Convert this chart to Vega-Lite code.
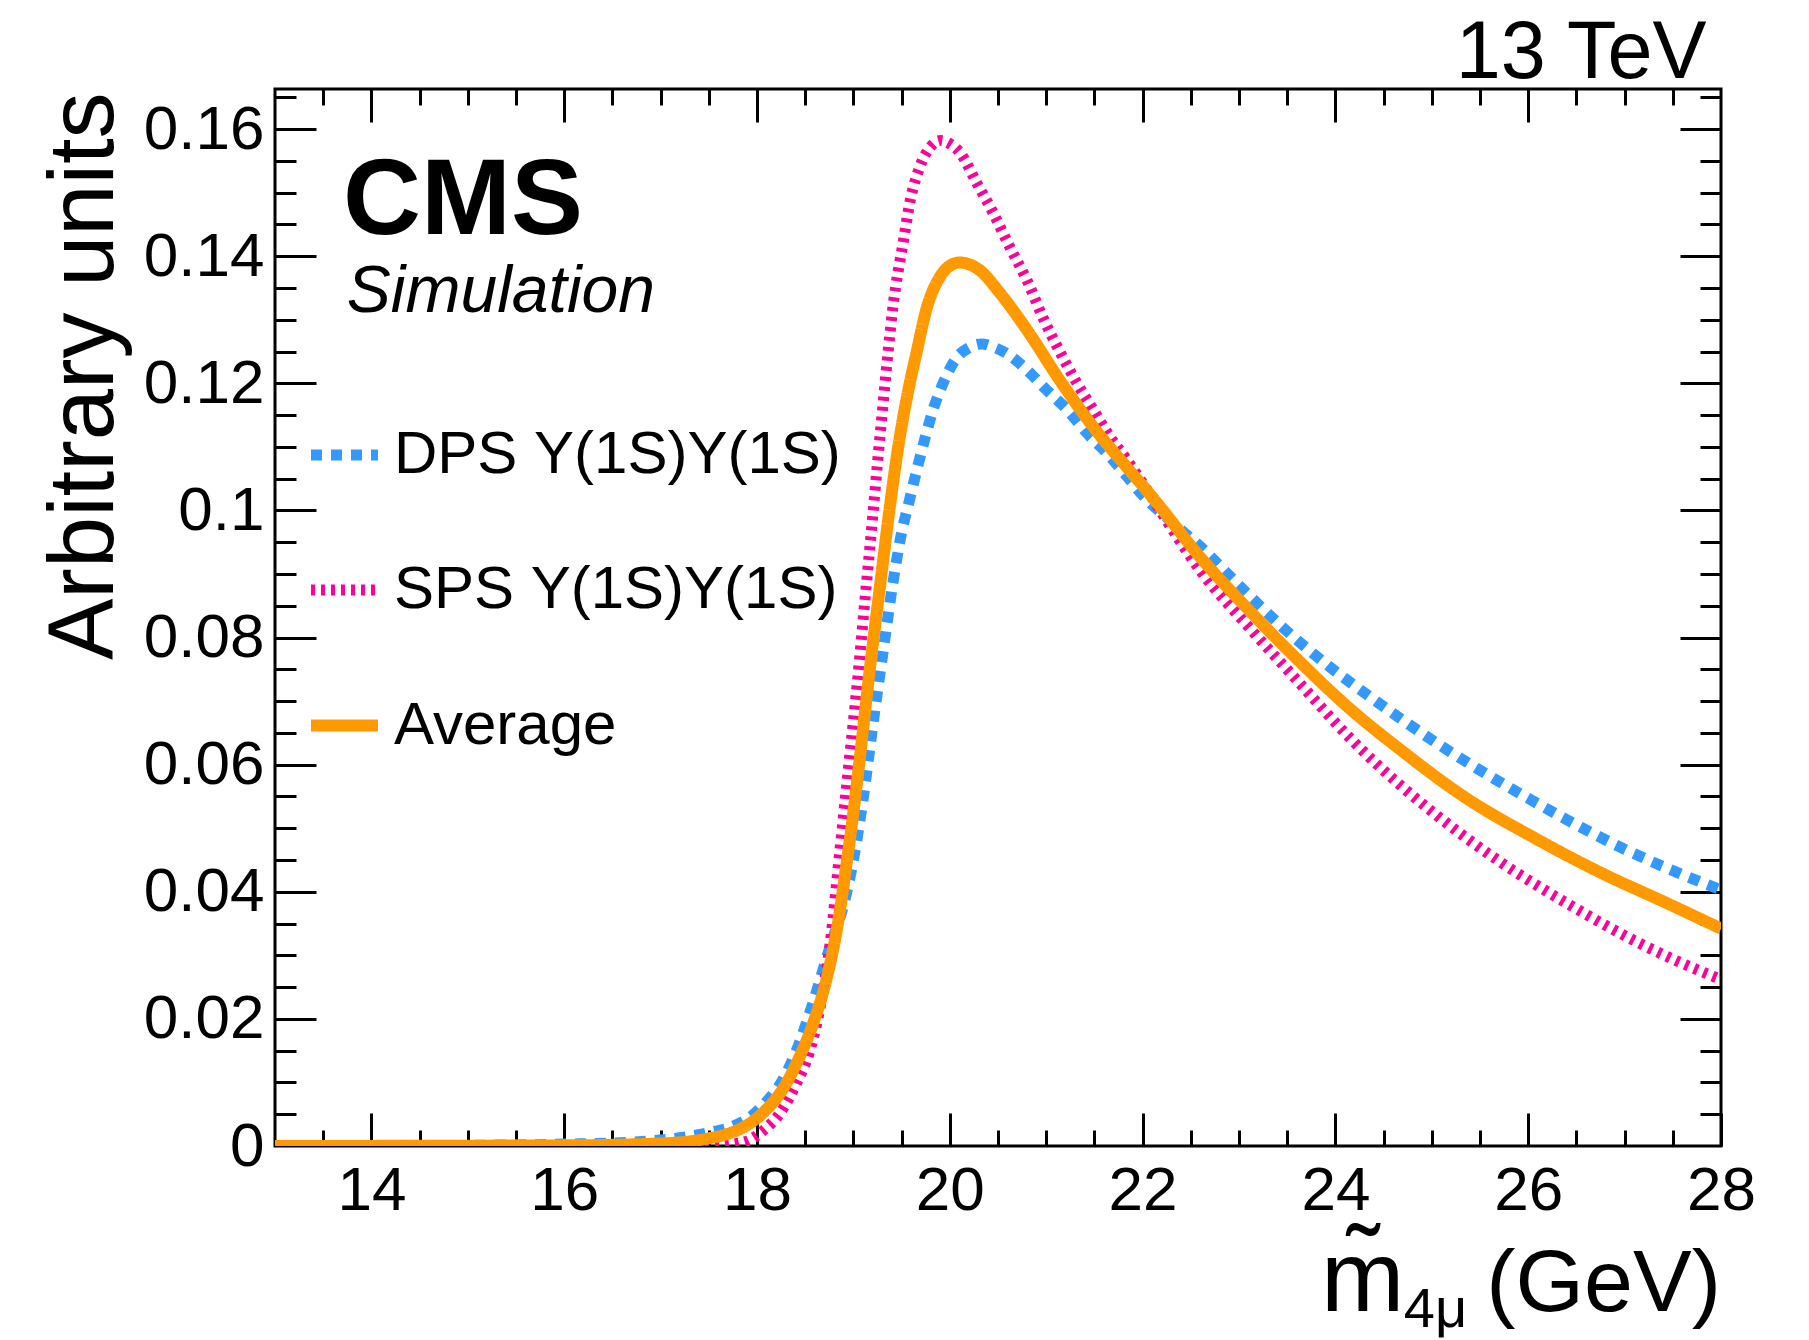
{
  "$schema": "https://vega.github.io/schema/vega-lite/v6.json",
  "width": 1446,
  "height": 1057,
  "autosize": {"type": "none"},
  "padding": {"left": 275, "top": 89, "right": 88, "bottom": 194},
  "background": "white",
  "datasets": {
    "curves": [
      {"series": "DPS Υ(1S)Υ(1S)", "x": 13.0, "y": 0.0},
      {"series": "DPS Υ(1S)Υ(1S)", "x": 14.0, "y": 0.0},
      {"series": "DPS Υ(1S)Υ(1S)", "x": 15.0, "y": 0.0001},
      {"series": "DPS Υ(1S)Υ(1S)", "x": 16.0, "y": 0.0003},
      {"series": "DPS Υ(1S)Υ(1S)", "x": 16.7, "y": 0.0006},
      {"series": "DPS Υ(1S)Υ(1S)", "x": 17.2, "y": 0.0013},
      {"series": "DPS Υ(1S)Υ(1S)", "x": 17.5, "y": 0.0021},
      {"series": "DPS Υ(1S)Υ(1S)", "x": 17.75, "y": 0.0031},
      {"series": "DPS Υ(1S)Υ(1S)", "x": 17.95, "y": 0.0048},
      {"series": "DPS Υ(1S)Υ(1S)", "x": 18.1, "y": 0.0070},
      {"series": "DPS Υ(1S)Υ(1S)", "x": 18.25, "y": 0.0100},
      {"series": "DPS Υ(1S)Υ(1S)", "x": 18.4, "y": 0.0147},
      {"series": "DPS Υ(1S)Υ(1S)", "x": 18.58, "y": 0.0225},
      {"series": "DPS Υ(1S)Υ(1S)", "x": 18.76, "y": 0.0315},
      {"series": "DPS Υ(1S)Υ(1S)", "x": 18.9, "y": 0.0380},
      {"series": "DPS Υ(1S)Υ(1S)", "x": 19.0, "y": 0.0450},
      {"series": "DPS Υ(1S)Υ(1S)", "x": 19.1, "y": 0.0545},
      {"series": "DPS Υ(1S)Υ(1S)", "x": 19.2, "y": 0.0660},
      {"series": "DPS Υ(1S)Υ(1S)", "x": 19.31, "y": 0.0780},
      {"series": "DPS Υ(1S)Υ(1S)", "x": 19.41, "y": 0.0886},
      {"series": "DPS Υ(1S)Υ(1S)", "x": 19.5, "y": 0.0965},
      {"series": "DPS Υ(1S)Υ(1S)", "x": 19.58, "y": 0.1015},
      {"series": "DPS Υ(1S)Υ(1S)", "x": 19.66, "y": 0.1065},
      {"series": "DPS Υ(1S)Υ(1S)", "x": 19.74, "y": 0.1112},
      {"series": "DPS Υ(1S)Υ(1S)", "x": 19.83, "y": 0.1160},
      {"series": "DPS Υ(1S)Υ(1S)", "x": 19.93, "y": 0.1200},
      {"series": "DPS Υ(1S)Υ(1S)", "x": 20.07, "y": 0.1240},
      {"series": "DPS Υ(1S)Υ(1S)", "x": 20.2, "y": 0.1256},
      {"series": "DPS Υ(1S)Υ(1S)", "x": 20.33, "y": 0.1262},
      {"series": "DPS Υ(1S)Υ(1S)", "x": 20.45, "y": 0.1257},
      {"series": "DPS Υ(1S)Υ(1S)", "x": 20.59, "y": 0.1247},
      {"series": "DPS Υ(1S)Υ(1S)", "x": 20.8, "y": 0.1221},
      {"series": "DPS Υ(1S)Υ(1S)", "x": 21.0, "y": 0.1190},
      {"series": "DPS Υ(1S)Υ(1S)", "x": 21.22, "y": 0.1158},
      {"series": "DPS Υ(1S)Υ(1S)", "x": 21.42, "y": 0.1122},
      {"series": "DPS Υ(1S)Υ(1S)", "x": 21.63, "y": 0.1090},
      {"series": "DPS Υ(1S)Υ(1S)", "x": 21.84, "y": 0.1053},
      {"series": "DPS Υ(1S)Υ(1S)", "x": 22.0, "y": 0.1024},
      {"series": "DPS Υ(1S)Υ(1S)", "x": 22.3, "y": 0.0982},
      {"series": "DPS Υ(1S)Υ(1S)", "x": 22.6, "y": 0.0943},
      {"series": "DPS Υ(1S)Υ(1S)", "x": 23.0, "y": 0.0882},
      {"series": "DPS Υ(1S)Υ(1S)", "x": 23.46, "y": 0.0815},
      {"series": "DPS Υ(1S)Υ(1S)", "x": 23.94, "y": 0.0754},
      {"series": "DPS Υ(1S)Υ(1S)", "x": 24.43, "y": 0.0699},
      {"series": "DPS Υ(1S)Υ(1S)", "x": 24.95, "y": 0.0644},
      {"series": "DPS Υ(1S)Υ(1S)", "x": 25.47, "y": 0.0594},
      {"series": "DPS Υ(1S)Υ(1S)", "x": 26.0, "y": 0.0547},
      {"series": "DPS Υ(1S)Υ(1S)", "x": 26.54, "y": 0.0502},
      {"series": "DPS Υ(1S)Υ(1S)", "x": 27.0, "y": 0.0467},
      {"series": "DPS Υ(1S)Υ(1S)", "x": 27.44, "y": 0.0437},
      {"series": "DPS Υ(1S)Υ(1S)", "x": 28.0, "y": 0.0403},
      {"series": "SPS Υ(1S)Υ(1S)", "x": 13.0, "y": 0.0},
      {"series": "SPS Υ(1S)Υ(1S)", "x": 17.0, "y": 0.0},
      {"series": "SPS Υ(1S)Υ(1S)", "x": 17.6, "y": 0.0001},
      {"series": "SPS Υ(1S)Υ(1S)", "x": 17.86, "y": 0.0006},
      {"series": "SPS Υ(1S)Υ(1S)", "x": 18.07, "y": 0.0025},
      {"series": "SPS Υ(1S)Υ(1S)", "x": 18.24, "y": 0.0052},
      {"series": "SPS Υ(1S)Υ(1S)", "x": 18.41, "y": 0.0099},
      {"series": "SPS Υ(1S)Υ(1S)", "x": 18.55, "y": 0.0151},
      {"series": "SPS Υ(1S)Υ(1S)", "x": 18.65, "y": 0.0215},
      {"series": "SPS Υ(1S)Υ(1S)", "x": 18.76, "y": 0.0320},
      {"series": "SPS Υ(1S)Υ(1S)", "x": 18.86, "y": 0.0465},
      {"series": "SPS Υ(1S)Υ(1S)", "x": 18.95, "y": 0.0597},
      {"series": "SPS Υ(1S)Υ(1S)", "x": 19.04, "y": 0.0728},
      {"series": "SPS Υ(1S)Υ(1S)", "x": 19.12, "y": 0.0860},
      {"series": "SPS Υ(1S)Υ(1S)", "x": 19.2, "y": 0.0990},
      {"series": "SPS Υ(1S)Υ(1S)", "x": 19.25, "y": 0.1075},
      {"series": "SPS Υ(1S)Υ(1S)", "x": 19.3, "y": 0.1155},
      {"series": "SPS Υ(1S)Υ(1S)", "x": 19.36, "y": 0.1250},
      {"series": "SPS Υ(1S)Υ(1S)", "x": 19.41, "y": 0.1320},
      {"series": "SPS Υ(1S)Υ(1S)", "x": 19.52, "y": 0.1425},
      {"series": "SPS Υ(1S)Υ(1S)", "x": 19.59, "y": 0.1488},
      {"series": "SPS Υ(1S)Υ(1S)", "x": 19.69, "y": 0.1541},
      {"series": "SPS Υ(1S)Υ(1S)", "x": 19.8, "y": 0.1572},
      {"series": "SPS Υ(1S)Υ(1S)", "x": 19.9, "y": 0.1582},
      {"series": "SPS Υ(1S)Υ(1S)", "x": 20.0, "y": 0.1577},
      {"series": "SPS Υ(1S)Υ(1S)", "x": 20.11, "y": 0.1562},
      {"series": "SPS Υ(1S)Υ(1S)", "x": 20.28, "y": 0.1515},
      {"series": "SPS Υ(1S)Υ(1S)", "x": 20.45, "y": 0.1468},
      {"series": "SPS Υ(1S)Υ(1S)", "x": 20.62, "y": 0.1415},
      {"series": "SPS Υ(1S)Υ(1S)", "x": 20.8, "y": 0.1362},
      {"series": "SPS Υ(1S)Υ(1S)", "x": 20.97, "y": 0.1302},
      {"series": "SPS Υ(1S)Υ(1S)", "x": 21.14, "y": 0.1250},
      {"series": "SPS Υ(1S)Υ(1S)", "x": 21.32, "y": 0.1200},
      {"series": "SPS Υ(1S)Υ(1S)", "x": 21.49, "y": 0.1158},
      {"series": "SPS Υ(1S)Υ(1S)", "x": 21.66, "y": 0.1116},
      {"series": "SPS Υ(1S)Υ(1S)", "x": 21.84, "y": 0.1079},
      {"series": "SPS Υ(1S)Υ(1S)", "x": 22.0, "y": 0.1043},
      {"series": "SPS Υ(1S)Υ(1S)", "x": 22.3, "y": 0.0972},
      {"series": "SPS Υ(1S)Υ(1S)", "x": 22.6, "y": 0.0905},
      {"series": "SPS Υ(1S)Υ(1S)", "x": 23.11, "y": 0.0815},
      {"series": "SPS Υ(1S)Υ(1S)", "x": 23.63, "y": 0.0728},
      {"series": "SPS Υ(1S)Υ(1S)", "x": 24.15, "y": 0.0642},
      {"series": "SPS Υ(1S)Υ(1S)", "x": 24.67, "y": 0.0568},
      {"series": "SPS Υ(1S)Υ(1S)", "x": 25.02, "y": 0.0524},
      {"series": "SPS Υ(1S)Υ(1S)", "x": 25.71, "y": 0.0447},
      {"series": "SPS Υ(1S)Υ(1S)", "x": 26.4, "y": 0.0382},
      {"series": "SPS Υ(1S)Υ(1S)", "x": 27.09, "y": 0.0324},
      {"series": "SPS Υ(1S)Υ(1S)", "x": 27.5, "y": 0.0294},
      {"series": "SPS Υ(1S)Υ(1S)", "x": 28.0, "y": 0.0262},
      {"series": "Average", "x": 13.0, "y": 0.0},
      {"series": "Average", "x": 16.0, "y": 0.0001},
      {"series": "Average", "x": 17.0, "y": 0.0004},
      {"series": "Average", "x": 17.5, "y": 0.0012},
      {"series": "Average", "x": 17.75, "y": 0.0022},
      {"series": "Average", "x": 17.93, "y": 0.0036},
      {"series": "Average", "x": 18.1, "y": 0.0058},
      {"series": "Average", "x": 18.27, "y": 0.0090},
      {"series": "Average", "x": 18.44, "y": 0.0140},
      {"series": "Average", "x": 18.58, "y": 0.0192},
      {"series": "Average", "x": 18.72, "y": 0.0262},
      {"series": "Average", "x": 18.83, "y": 0.0342},
      {"series": "Average", "x": 18.93, "y": 0.0445},
      {"series": "Average", "x": 19.0, "y": 0.0525},
      {"series": "Average", "x": 19.07, "y": 0.0615},
      {"series": "Average", "x": 19.17, "y": 0.0750},
      {"series": "Average", "x": 19.28, "y": 0.0886},
      {"series": "Average", "x": 19.38, "y": 0.1008},
      {"series": "Average", "x": 19.46, "y": 0.1095},
      {"series": "Average", "x": 19.55, "y": 0.1174},
      {"series": "Average", "x": 19.66, "y": 0.1252},
      {"series": "Average", "x": 19.76, "y": 0.1318},
      {"series": "Average", "x": 19.9, "y": 0.1368},
      {"series": "Average", "x": 20.0, "y": 0.1385},
      {"series": "Average", "x": 20.1, "y": 0.1390},
      {"series": "Average", "x": 20.31, "y": 0.1378},
      {"series": "Average", "x": 20.52, "y": 0.1342},
      {"series": "Average", "x": 20.8, "y": 0.1284},
      {"series": "Average", "x": 21.14, "y": 0.1205},
      {"series": "Average", "x": 21.49, "y": 0.1131},
      {"series": "Average", "x": 21.83, "y": 0.1069},
      {"series": "Average", "x": 22.1, "y": 0.1021},
      {"series": "Average", "x": 22.6, "y": 0.0926},
      {"series": "Average", "x": 23.11, "y": 0.0842},
      {"series": "Average", "x": 23.63, "y": 0.0762},
      {"series": "Average", "x": 24.15, "y": 0.0688},
      {"series": "Average", "x": 24.67, "y": 0.0624},
      {"series": "Average", "x": 25.36, "y": 0.0547},
      {"series": "Average", "x": 26.05, "y": 0.0486},
      {"series": "Average", "x": 26.74, "y": 0.0431},
      {"series": "Average", "x": 27.44, "y": 0.0382},
      {"series": "Average", "x": 28.0, "y": 0.0342}
    ]
  },
  "data": {"name": "curves"},
  "config": {
    "view": {"stroke": "black", "strokeWidth": 3},
    "axis": {"domain": false, "grid": false, "tickColor": "black", "tickWidth": 3, "labelFont": "Liberation Sans", "labelFontSize": 62, "labelColor": "black", "labelFlush": false, "labelOverlap": false, "labelBound": false, "titleFont": "Liberation Sans", "titleColor": "black", "titleFontWeight": "normal"},
    "legend": {"orient": "none", "legendX": 30, "legendY": 327, "padding": 0, "symbolType": "stroke", "symbolSize": 4489, "labelFont": "Liberation Sans", "labelFontSize": 60, "labelColor": "black", "labelOffset": 10, "rowPadding": 66, "labelLimit": 0},
    "text": {"font": "Liberation Sans"}
  },
  "layer": [
    {
      "layer": [
        {
          "encoding": {
            "x": {"field": "x", "type": "quantitative", "scale": {"domain": [13, 28], "nice": false, "zero": false},
                  "axis": {"orient": "bottom", "values": [14, 16, 18, 20, 22, 24, 26, 28], "format": "d", "ticks": false, "labelPadding": 63, "labelBaseline": "alphabetic", "title": null}},
            "y": {"field": "y", "type": "quantitative", "scale": {"domain": [0, 0.1663], "nice": false},
                  "axis": {"orient": "left", "values": [0, 0.02, 0.04, 0.06, 0.08, 0.1, 0.12, 0.14, 0.16], "format": ".2~f", "ticks": false, "labelPadding": 11, "title": "Arbitrary units", "titleFontSize": 92, "titleX": -163, "titleY": 3, "titleAlign": "right", "titleBaseline": "alphabetic", "titleAngle": 270}},
            "color": {"field": "series", "type": "nominal", "scale": {"domain": ["DPS Υ(1S)Υ(1S)", "SPS Υ(1S)Υ(1S)", "Average"], "range": ["#3399ff", "#ff0099", "#ff9900"]}, "legend": {"title": null}},
            "strokeDash": {"field": "series", "type": "nominal", "scale": {"domain": ["DPS Υ(1S)Υ(1S)", "SPS Υ(1S)Υ(1S)", "Average"], "range": [[11, 9], [4, 6], [1, 0]]}, "legend": {"title": null}},
            "strokeWidth": {"field": "series", "type": "nominal", "scale": {"type": "ordinal", "domain": ["DPS Υ(1S)Υ(1S)", "SPS Υ(1S)Υ(1S)", "Average"], "range": [11, 11, 12]}, "legend": {"title": null}}
          },
          "layer": [
            {"transform": [{"filter": "datum.series === 'DPS Υ(1S)Υ(1S)'"}], "mark": {"type": "line", "interpolate": "monotone", "clip": true}},
            {"transform": [{"filter": "datum.series === 'SPS Υ(1S)Υ(1S)'"}], "mark": {"type": "line", "interpolate": "monotone", "clip": true}},
            {"transform": [{"filter": "datum.series === 'Average'"}], "mark": {"type": "line", "interpolate": "monotone", "clip": true}}
          ]
        },
        {
          "data": {"values": [{"label": "CMS"}]},
          "mark": {"type": "text", "align": "left", "baseline": "alphabetic", "font": "Liberation Sans", "fontSize": 108, "fontWeight": "bold", "color": "black"},
          "encoding": {"x": {"datum": 13.705, "type": "quantitative"}, "y": {"datum": 0.1435, "type": "quantitative"}, "text": {"field": "label"}}
        },
        {
          "data": {"values": [{"label": "Simulation"}]},
          "mark": {"type": "text", "align": "left", "baseline": "alphabetic", "font": "Liberation Sans", "fontSize": 66, "fontStyle": "italic", "color": "black"},
          "encoding": {"x": {"datum": 13.745, "type": "quantitative"}, "y": {"datum": 0.1312, "type": "quantitative"}, "text": {"field": "label"}}
        },
        {
          "data": {"values": [{"label": "13 TeV"}]},
          "mark": {"type": "text", "align": "right", "baseline": "alphabetic", "font": "Liberation Sans", "fontSize": 81, "color": "black"},
          "encoding": {"x": {"datum": 27.85, "type": "quantitative"}, "y": {"datum": 0.1680, "type": "quantitative"}, "text": {"field": "label"}}
        },
        {
          "data": {"values": [{"label": "m̃"}]},
          "mark": {"type": "text", "align": "left", "baseline": "alphabetic", "font": "Liberation Sans", "fontSize": 100, "color": "black"},
          "encoding": {"x": {"datum": 23.85, "type": "quantitative"}, "y": {"datum": -0.026, "type": "quantitative"}, "text": {"field": "label"}}
        },
        {
          "data": {"values": [{"label": "4μ"}]},
          "mark": {"type": "text", "align": "left", "baseline": "alphabetic", "font": "Liberation Sans", "fontSize": 56, "color": "black"},
          "encoding": {"x": {"datum": 24.71, "type": "quantitative"}, "y": {"datum": -0.0285, "type": "quantitative"}, "text": {"field": "label"}}
        },
        {
          "data": {"values": [{"label": "(GeV)"}]},
          "mark": {"type": "text", "align": "right", "baseline": "alphabetic", "font": "Liberation Sans", "fontSize": 88, "color": "black"},
          "encoding": {"x": {"datum": 28, "type": "quantitative"}, "y": {"datum": -0.026, "type": "quantitative"}, "text": {"field": "label"}}
        }
      ]
    },
    {
      "mark": {"type": "point", "opacity": 0},
      "encoding": {
        "x": {"field": "x", "type": "quantitative", "scale": {"domain": [13, 28], "nice": false, "zero": false},
              "axis": {"orient": "bottom", "values": [14, 16, 18, 20, 22, 24, 26, 28], "labels": false, "tickSize": -33, "title": null}},
        "y": {"field": "y", "type": "quantitative", "scale": {"domain": [0, 0.1663], "nice": false},
              "axis": {"orient": "left", "values": [0.02, 0.04, 0.06, 0.08, 0.1, 0.12, 0.14, 0.16], "labels": false, "tickSize": -41, "title": null}}
      }
    },
    {
      "mark": {"type": "point", "opacity": 0},
      "encoding": {
        "x": {"field": "x", "type": "quantitative", "scale": {"domain": [13, 28], "nice": false, "zero": false},
              "axis": {"orient": "bottom", "values": [13.5, 14.5, 15, 15.5, 16.5, 17, 17.5, 18.5, 19, 19.5, 20.5, 21, 21.5, 22.5, 23, 23.5, 24.5, 25, 25.5, 26.5, 27, 27.5], "labels": false, "tickSize": -16, "title": null}},
        "y": {"field": "y", "type": "quantitative", "scale": {"domain": [0, 0.1663], "nice": false},
              "axis": {"orient": "left", "values": [0.005, 0.01, 0.015, 0.025, 0.03, 0.035, 0.045, 0.05, 0.055, 0.065, 0.07, 0.075, 0.085, 0.09, 0.095, 0.105, 0.11, 0.115, 0.125, 0.13, 0.135, 0.145, 0.15, 0.155, 0.165], "labels": false, "tickSize": -21, "title": null}}
      }
    },
    {
      "mark": {"type": "point", "opacity": 0},
      "encoding": {
        "x": {"field": "x", "type": "quantitative", "scale": {"domain": [13, 28], "nice": false, "zero": false},
              "axis": {"orient": "top", "values": [14, 16, 18, 20, 22, 24, 26], "labels": false, "tickSize": -33, "title": null}},
        "y": {"field": "y", "type": "quantitative", "scale": {"domain": [0, 0.1663], "nice": false},
              "axis": {"orient": "right", "values": [0.02, 0.04, 0.06, 0.08, 0.1, 0.12, 0.14, 0.16], "labels": false, "tickSize": -41, "title": null}}
      }
    },
    {
      "mark": {"type": "point", "opacity": 0},
      "encoding": {
        "x": {"field": "x", "type": "quantitative", "scale": {"domain": [13, 28], "nice": false, "zero": false},
              "axis": {"orient": "top", "values": [13.5, 14.5, 15, 15.5, 16.5, 17, 17.5, 18.5, 19, 19.5, 20.5, 21, 21.5, 22.5, 23, 23.5, 24.5, 25, 25.5, 26.5, 27, 27.5], "labels": false, "tickSize": -16, "title": null}},
        "y": {"field": "y", "type": "quantitative", "scale": {"domain": [0, 0.1663], "nice": false},
              "axis": {"orient": "right", "values": [0.005, 0.01, 0.015, 0.025, 0.03, 0.035, 0.045, 0.05, 0.055, 0.065, 0.07, 0.075, 0.085, 0.09, 0.095, 0.105, 0.11, 0.115, 0.125, 0.13, 0.135, 0.145, 0.15, 0.155, 0.165], "labels": false, "tickSize": -21, "title": null}}
      }
    }
  ],
  "resolve": {"scale": {"x": "independent", "y": "independent"}}
}
